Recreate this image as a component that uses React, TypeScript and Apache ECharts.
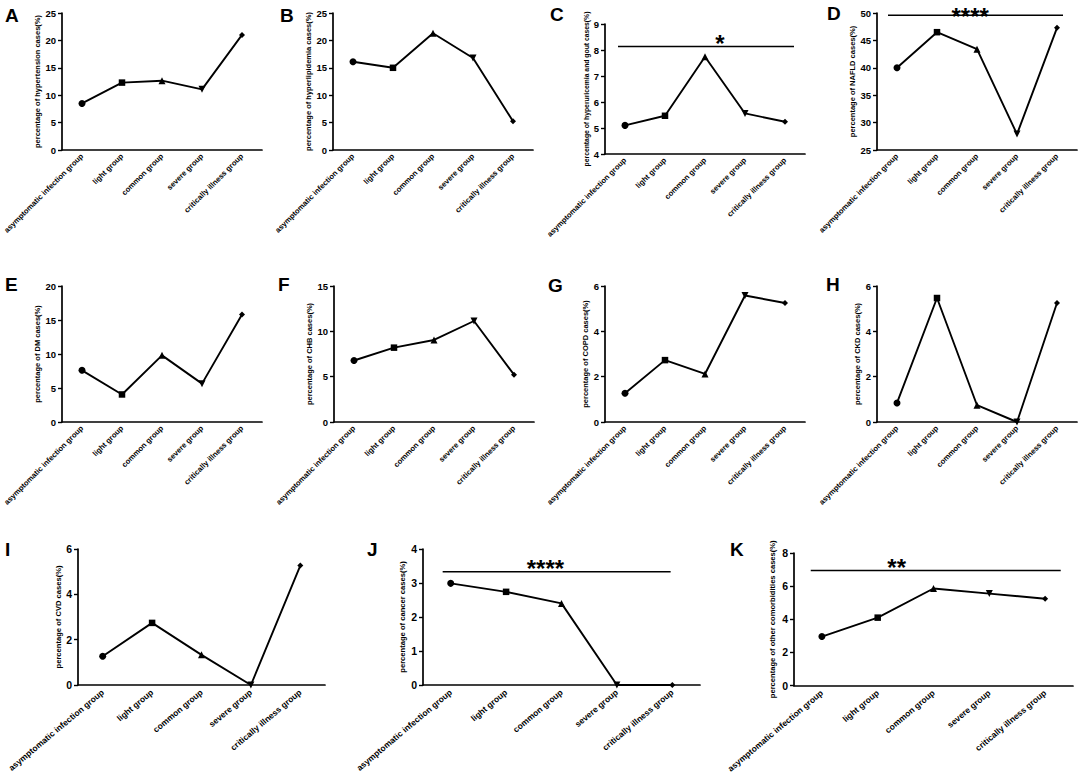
import React, { useEffect, useRef } from "react";
import * as echarts from "echarts";

const categories = [
  "asymptomatic infection group",
  "light group",
  "common group",
  "severe group",
  "critically illness group",
];

const hypertension = [8.5, 12.3, 12.65, 11.07, 21.0];
const hyperlipidemia = [16.1, 15.0, 21.3, 16.8, 5.25];
const hyperuricemiaGout = [5.1, 5.47, 7.74, 5.56, 5.24];
const nafld = [40.0, 46.5, 43.4, 27.9, 47.3];
const dm = [7.6, 4.05, 9.8, 5.64, 15.8];
const chb = [6.78, 8.2, 9.05, 11.14, 5.22];
const copd = [1.27, 2.73, 2.12, 5.58, 5.25];
const ckd = [0.84, 5.47, 0.74, 0.0, 5.25];
const cvd = [1.27, 2.74, 1.33, 0.0, 5.27];
const cancer = [2.99, 2.74, 2.4, 0.0, 0.0];
const others = [2.96, 4.1, 5.86, 5.55, 5.24];

const letters = ["A", "B", "C", "D", "E", "F", "G", "H", "I", "J", "K"];
const yNames = [
  "percentage of hypertension cases(%)",
  "percentage of hyperlipidemia cases(%)",
  "percentage of hyperuricemia and gout cases(%)",
  "percentage of NAFLD cases(%)",
  "percentage of DM cases(%)",
  "percentage of CHB cases(%)",
  "percentage of COPD cases(%)",
  "percentage of CKD cases(%)",
  "percentage of CVD cases(%)",
  "percentage of cancer cases(%)",
  "percentage of other comorbidities cases(%)",
];
const seriesValues = [hypertension, hyperlipidemia, hyperuricemiaGout, nafld, dm, chb, copd, ckd, cvd, cancer, others];
const yMin = [0, 0, 4, 25, 0, 0, 0, 0, 0, 0, 0];
const yMax = [25, 25, 9, 50, 20, 15, 6, 6, 6, 4, 8];
const yStep = [5, 5, 1, 5, 5, 5, 2, 2, 2, 1, 2];

// significance annotations: panel index, y value, category-index extent, label, label position
const sigPanel = [2, 3, 9, 10];
const sigValue = [8.13, 49.6, 3.33, 6.94];
const sigFrom = [-0.175, -0.225, -0.145, -0.2];
const sigTo = [4.225, 4.15, 3.97, 4.28];
const sigLabel = ["*", "****", "****", "**"];
const sigLabelAt = [2.375, 1.83, 1.71, 1.34];

// layout (pixels)
const layout = [
  { left: 62, top: 13, width: 200, height: 137, gap: 11, ns: 7.5, lx: 5, ly: 8 },
  { left: 333, top: 13, width: 200, height: 137, gap: 14, ns: 7.5, lx: 280, ly: 8 },
  { left: 605, top: 24, width: 200, height: 130, gap: 13, ns: 6.8, lx: 550, ly: 7 },
  { left: 877, top: 13, width: 200, height: 137, gap: 17, ns: 7.5, lx: 827, ly: 6 },
  { left: 62, top: 286, width: 200, height: 136, gap: 10, ns: 7.5, lx: 5, ly: 277 },
  { left: 334, top: 286, width: 200, height: 136, gap: 14, ns: 7.5, lx: 278, ly: 277 },
  { left: 605, top: 286, width: 200, height: 136, gap: 9, ns: 7.5, lx: 548, ly: 278 },
  { left: 877, top: 286, width: 200, height: 136, gap: 10, ns: 7.5, lx: 826, ly: 277 },
  { left: 78, top: 549, width: 247, height: 136, gap: 14, ns: 7.6, lx: 5, ly: 542 },
  { left: 423, top: 549, width: 277, height: 136, gap: 17, ns: 7.6, lx: 367, ly: 542 },
  { left: 794, top: 553, width: 279, height: 134, gap: 18, ns: 7.6, lx: 730, ly: 542 },
];

const FONT = "'Liberation Sans', Arial, sans-serif";
const shapes = ["circle", "rect", "triangle", "path://M0,0L10,0L5,9Z", "diamond"];
const shapeSizes = [7, 6.5, 7, 7, 6];

export default function App() {
  const ref = useRef<HTMLDivElement>(null);
  useEffect(() => {
    if (!ref.current) return;
    const chart = echarts.init(ref.current, undefined, { renderer: "svg" });
    const option: any = {
      animation: false,
      backgroundColor: "#fff",
      grid: layout.map((l) => ({ left: l.left, top: l.top, width: l.width, height: l.height })),
      xAxis: layout.map((l, i) => {
        const row3 = i >= 8;
        return {
          gridIndex: i,
          type: "category",
          data: categories,
          boundaryGap: true,
          axisLine: { onZero: false, lineStyle: { color: "#000", width: 1.7 } },
          axisTick: { alignWithLabel: true, interval: 0, length: 4, lineStyle: { color: "#000", width: 1.4 } },
          axisLabel: {
            interval: 0,
            rotate: row3 ? 40 : 45,
            fontSize: row3 ? 8.5 : 7.6,
            fontWeight: "bold",
            color: "#000",
            fontFamily: FONT,
            margin: row3 ? 6 : 5,
          },
          splitLine: { show: false },
        };
      }),
      yAxis: layout.map((l, i) => ({
        gridIndex: i,
        type: "value",
        min: yMin[i],
        max: yMax[i],
        interval: yStep[i],
        name: yNames[i],
        nameLocation: "middle",
        nameRotate: 90,
        nameGap: l.gap,
        nameTextStyle: { fontSize: l.ns, fontWeight: "bold", color: "#000", fontFamily: FONT },
        axisLine: { show: true, lineStyle: { color: "#000", width: 1.7 } },
        axisTick: { show: true, length: 4, lineStyle: { color: "#000", width: 1.4 } },
        axisLabel: {
          fontSize: i >= 8 ? 10.5 : 9.5,
          fontWeight: "bold",
          color: "#000",
          fontFamily: FONT,
          margin: 6,
        },
        splitLine: { show: false },
      })),
      series: seriesValues.map((vals, i) => ({
        type: "line",
        xAxisIndex: i,
        yAxisIndex: i,
        data: vals.map((v, k) => ({ value: v, symbol: shapes[k], symbolSize: shapeSizes[k] })),
        lineStyle: { color: "#000", width: 1.9 },
        itemStyle: { color: "#000" },
        showSymbol: true,
        z: 3,
      })),
    };
    chart.setOption(option);

    const elements: any[] = [];
    layout.forEach((l, i) => {
      elements.push({
        type: "text",
        x: l.lx,
        y: l.ly - 2,
        style: {
          text: letters[i],
          fontSize: 19,
          fontWeight: "bold",
          fontFamily: FONT,
          fill: "#000",
          textAlign: "left",
          textVerticalAlign: "top",
          align: "left",
          verticalAlign: "top",
        },
      });
    });
    sigPanel.forEach((p, j) => {
      const x0 = chart.convertToPixel({ xAxisIndex: p } as any, 0) as any as number;
      const x4 = chart.convertToPixel({ xAxisIndex: p } as any, 4) as any as number;
      const step = (x4 - x0) / 4;
      const y = chart.convertToPixel({ yAxisIndex: p } as any, sigValue[j]) as any as number;
      elements.push({
        type: "line",
        shape: { x1: x0 + sigFrom[j] * step, y1: y, x2: x0 + sigTo[j] * step, y2: y },
        style: { stroke: "#000", lineWidth: 1.5 },
      });
      elements.push({
        type: "text",
        x: x0 + sigLabelAt[j] * step,
        y: y + (p === 3 ? 1.5 : -3.5),
        style: {
          text: sigLabel[j],
          fontSize: 24,
          fontWeight: "bold",
          fontFamily: FONT,
          fill: "#000",
          textAlign: "center",
          textVerticalAlign: "middle",
          align: "center",
          verticalAlign: "middle",
        },
      });
    });
    chart.setOption({ graphic: { elements } });
    return () => chart.dispose();
  }, []);
  return (
    <div
      ref={ref}
      style={{ position: "absolute", left: 0, top: 0, width: 1084, height: 775, background: "#fff" }}
    />
  );
}
